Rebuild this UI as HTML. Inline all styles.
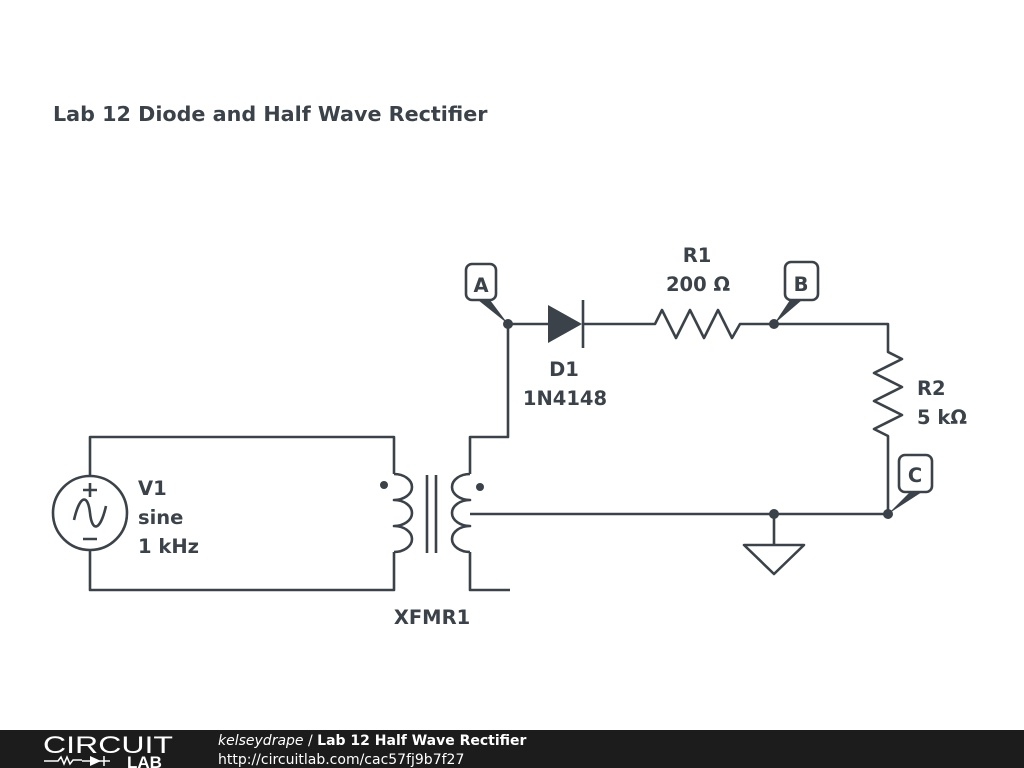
<!DOCTYPE html>
<html><head><meta charset="utf-8"><style>
body{margin:0;width:1024px;height:768px;background:#fff;overflow:hidden;font-family:"DejaVu Sans",sans-serif}
</style></head><body>
<svg width="1024" height="768" xmlns="http://www.w3.org/2000/svg" style="position:absolute;left:0;top:0">
<g fill="none" stroke="#3b4249" stroke-width="2.6" stroke-linejoin="round">
<path d="M90 476 V437 H394 V474"/>
<path d="M90 550 V590 H394 V552"/>
<circle cx="90" cy="513" r="37"/>
<path d="M90 483 V497 M83 490 H97 M83 539 H97"/>
<path d="M74 520 C80 494 88 494 90 513 C92 532 100 532 106 506"/>
<path d="M394 474 a18 13 0 0 1 0 26 a18 13 0 0 1 0 26 a18 13 0 0 1 0 26"/>
<path d="M427 475 V553 M436 475 V553"/>
<path d="M470 474 a18 13 0 0 0 0 26 a18 13 0 0 0 0 26 a18 13 0 0 0 0 26"/>
<path d="M470 474 V437 H508 V324 H548 M582 324 H655 L662 310 L676 338 L690 310 L704 338 L718 310 L732 338 L740 324 H888 V352 L902 359 L874 373 L902 387 L874 401 L902 415 L874 429 L888 436 V514"/>
<path d="M470 552 V590 H510"/>
<path d="M470 514 H888"/>
<path d="M774 514 V545"/>
<path d="M744 545 H804 L774 574 Z"/>
<path d="M583 300 V348"/>
<rect x="466" y="264" width="30" height="36" rx="6"/>
<rect x="785" y="262" width="33" height="38" rx="6"/>
<rect x="899" y="455" width="33" height="37" rx="6"/>
</g>
<g fill="#3b4249">
<path d="M548 305 L582 324 L548 343 Z"/>
<circle cx="384" cy="485" r="4"/><circle cx="480" cy="487" r="4"/>
<circle cx="508" cy="324" r="5"/><circle cx="774" cy="324" r="5"/>
<circle cx="774" cy="514" r="5"/><circle cx="888" cy="514" r="5"/>
<path d="M478 300 L490 300 L508 324 Z"/>
<path d="M790 300 L802 300 L774 324 Z"/>
<path d="M910 492 L922 492 L888 514 Z"/>
</g>
<g fill="#3b4249" font-family="DejaVu Sans, sans-serif" font-weight="bold" font-size="19.5">
<text x="53" y="121" font-size="20.7">Lab 12 Diode and Half Wave Rectifier</text>
<text x="481" y="292" text-anchor="middle">A</text>
<text x="801" y="291" text-anchor="middle">B</text>
<text x="915" y="482" text-anchor="middle">C</text>
<text x="697" y="262" text-anchor="middle">R1</text>
<text x="698" y="291" text-anchor="middle">200 Ω</text>
<text x="564" y="376" text-anchor="middle">D1</text>
<text x="565" y="405" text-anchor="middle">1N4148</text>
<text x="917" y="395">R2</text>
<text x="917" y="424">5 kΩ</text>
<text x="138" y="495">V1</text>
<text x="138" y="524">sine</text>
<text x="138" y="553">1 kHz</text>
<text x="432" y="624" text-anchor="middle">XFMR1</text>
</g>
<rect x="0" y="730" width="1024" height="38" fill="#1c1c1c"/>
<text x="43" y="753" fill="#fff" font-size="24" font-family="Liberation Sans, sans-serif" textLength="130" lengthAdjust="spacingAndGlyphs">CIRCUIT</text>
<path d="M44 761 H58 l3 -4 3 7 3 -7 3 7 3 -4 H82 M82 761 H110 M104 756 V766" stroke="#fff" stroke-width="1.5" fill="none"/>
<path d="M90 756 L101 761 L90 766Z" fill="#fff"/>
<text x="127" y="768" fill="#fff" font-size="17" font-weight="bold" font-family="Liberation Sans, sans-serif">LAB</text>
<text x="218" y="745" fill="#fff" font-size="14" font-family="DejaVu Sans, sans-serif"><tspan font-style="italic">kelseydrape</tspan> / <tspan font-weight="bold">Lab 12 Half Wave Rectifier</tspan></text>
<text x="218" y="764" fill="#fff" font-size="14" font-family="DejaVu Sans, sans-serif">http://circuitlab.com/cac57fj9b7f27</text>
</svg>
</body></html>
